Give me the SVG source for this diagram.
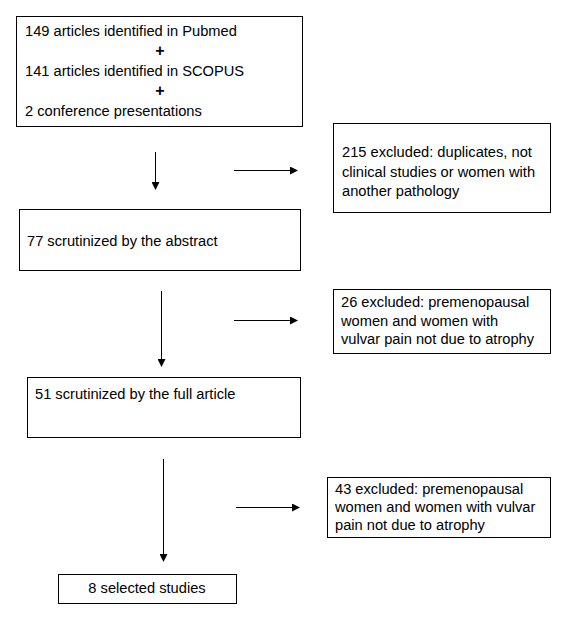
<svg xmlns="http://www.w3.org/2000/svg" width="570" height="618" viewBox="0 0 570 618">
<defs>
<marker id="ah" markerWidth="8" markerHeight="8" refX="7" refY="4" orient="auto" markerUnits="userSpaceOnUse">
<path d="M0,0 L8,4 L0,8 Z" fill="#000"/>
</marker>
<style>
.box{fill:#fff;stroke:#000;stroke-width:1}
.t{font-family:"Liberation Sans",Arial,sans-serif;font-size:14.67px;fill:#000}
.p{font-family:"Liberation Sans",Arial,sans-serif;font-size:16px;font-weight:bold;fill:#000}
.c{stroke:#000;stroke-width:1;fill:none;marker-end:url(#ah)}
</style>
</defs>
<rect width="570" height="618" fill="#fff"/>
<g id="n1">
<rect class="box" x="16.5" y="16.5" width="286" height="110"/>
<text class="t" x="25" y="36">149 articles identified in Pubmed</text>
<text class="p" x="160" y="56" text-anchor="middle">+</text>
<text class="t" x="25" y="76">141 articles identified in SCOPUS</text>
<text class="p" x="160" y="96" text-anchor="middle">+</text>
<text class="t" x="25" y="116">2 conference presentations</text>
</g>
<g id="n2">
<rect class="box" x="333.5" y="123.5" width="217" height="89"/>
<text class="t" x="342" y="157">215 excluded: duplicates, not</text>
<text class="t" x="342" y="177">clinical studies or women with</text>
<text class="t" x="342" y="196">another pathology</text>
</g>
<g id="n3">
<rect class="box" x="19.5" y="209.5" width="281" height="61"/>
<text class="t" x="27" y="246">77 scrutinized by the abstract</text>
</g>
<g id="n4">
<rect class="box" x="333.5" y="289.5" width="217" height="64"/>
<text class="t" x="341" y="307">26 excluded: premenopausal</text>
<text class="t" x="341" y="326">women and women with</text>
<text class="t" x="341" y="344">vulvar pain not due to atrophy</text>
</g>
<g id="n5">
<rect class="box" x="27.5" y="377.5" width="273" height="60"/>
<text class="t" x="35" y="399">51 scrutinized by the full article</text>
</g>
<g id="n6">
<rect class="box" x="327.5" y="477.5" width="223" height="60"/>
<text class="t" x="335" y="494">43 excluded: premenopausal</text>
<text class="t" x="335" y="512">women and women with vulvar</text>
<text class="t" x="335" y="530">pain not due to atrophy</text>
</g>
<g id="n7">
<rect class="box" x="58.5" y="574.5" width="178" height="29"/>
<text class="t" x="147" y="593" text-anchor="middle">8 selected studies</text>
</g>
<g id="connectors">
<line class="c" x1="155.5" y1="152" x2="155.5" y2="189"/>
<line class="c" x1="234" y1="170.5" x2="297" y2="170.5"/>
<line class="c" x1="161.5" y1="291" x2="161.5" y2="366"/>
<line class="c" x1="234" y1="320.5" x2="297" y2="320.5"/>
<line class="c" x1="163.5" y1="459" x2="163.5" y2="561"/>
<line class="c" x1="236" y1="507.5" x2="299" y2="507.5"/>
</g>
</svg>
